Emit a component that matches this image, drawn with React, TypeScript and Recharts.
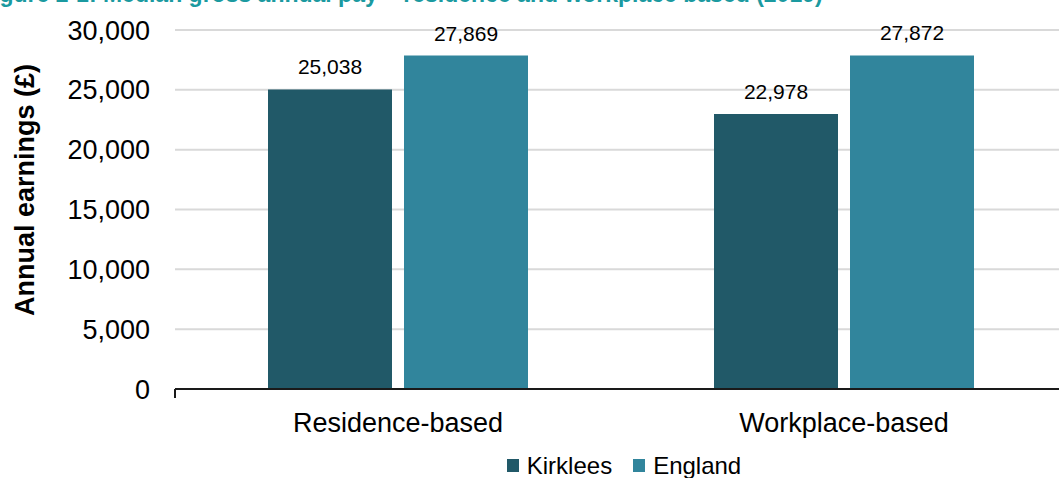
import { BarChart, Bar, XAxis, YAxis, CartesianGrid, Legend, LabelList } from 'recharts';

const CATEGORIES = ['Residence-based', 'Workplace-based'];
const KIRKLEES = [25038, 22978];
const ENGLAND = [27869, 27872];
const Y_TICKS = [0, 5000, 10000, 15000, 20000, 25000, 30000];
const EDGE_TICKS = [0, 1, 2];

const SERIES = [
  { key: 'Kirklees', color: '#215968' },
  { key: 'England', color: '#31859c' },
];

const data = CATEGORIES.map((name, i) => ({
  name,
  Kirklees: KIRKLEES[i],
  England: ENGLAND[i],
}));

const FONT = '"Liberation Sans", Arial, sans-serif';
const fmt = (v: number) => Number(v).toLocaleString('en-GB');

const YTitle = () => (
  <text
    x={34}
    y={190}
    transform="rotate(-90 34 190)"
    textAnchor="middle"
    fontSize={27}
    fontWeight="bold"
    fill="#000"
    fontFamily={FONT}
  >
    Annual earnings (£)
  </text>
);

const LegendBox = () => (
  <div
    style={{
      display: 'flex',
      justifyContent: 'center',
      alignItems: 'center',
      height: 28,
      paddingTop: 2,
      fontFamily: FONT,
      fontSize: 24,
      color: '#000',
    }}
  >
    {SERIES.map((s, i) => (
      <div key={s.key} style={{ display: 'flex', alignItems: 'center', marginLeft: i ? 21 : 0 }}>
        <span style={{ display: 'inline-block', width: 12, height: 13, background: s.color, marginRight: 8, marginTop: -2 }} />
        <span style={{ lineHeight: '28px' }}>{s.key}</span>
      </div>
    ))}
  </div>
);

export default function App() {
  return (
    <div style={{ position: 'fixed', left: 0, top: 0, width: 1059, height: 478, overflow: 'hidden', background: '#fff' }}>
      <div
        style={{
          position: 'absolute',
          left: -21,
          top: -17,
          fontSize: 23,
          lineHeight: '23px',
          fontWeight: 'bold',
          color: '#1b9aa0',
          fontFamily: FONT,
          whiteSpace: 'nowrap',
        }}
      >
        Figure 2-1: Median gross annual pay – residence and workplace based (2019)
      </div>
      <BarChart
        width={1075}
        height={478}
        data={data}
        margin={{ top: 30, right: 8, bottom: 0, left: 0 }}
        barGap={12}
        style={{ fontFamily: FONT }}
      >
        <CartesianGrid xAxisId={1} vertical={false} stroke="#d9d9d9" strokeWidth={2} />
        {/* category boundary ticks: numeric axis 0..2 spanning the plot */}
        <XAxis
          xAxisId={0}
          type="number"
          domain={[0, 2]}
          ticks={EDGE_TICKS}
          height={1}
          tickFormatter={() => ''}
          tick={{ fontSize: 1 }}
          tickSize={9}
          axisLine={{ stroke: '#1a1a1a', strokeWidth: 2 }}
          tickLine={{ stroke: '#1a1a1a', strokeWidth: 2 }}
        />
        <XAxis
          xAxisId={1}
          dataKey="name"
          height={60}
          axisLine={false}
          tickLine={false}
          tickSize={0}
          tickMargin={23}
          tick={{ fontSize: 27, fill: '#000' }}
        />
        <YAxis
          width={175}
          domain={[0, 30000]}
          ticks={Y_TICKS}
          axisLine={false}
          tickLine={false}
          tickSize={0}
          tickMargin={25}
          tickFormatter={fmt}
          tick={{ fontSize: 27, fill: '#000' }}
          label={<YTitle />}
        />
        <Legend
          content={<LegendBox />}
          wrapperStyle={{ left: 175, width: 898, height: 28 }}
        />
        {SERIES.map((s) => (
          <Bar key={s.key} xAxisId={1} dataKey={s.key} fill={s.color} barSize={124} isAnimationActive={false}>
            <LabelList dataKey={s.key} position="top" offset={15} formatter={fmt} fontSize={21} fill="#000" />
          </Bar>
        ))}
      </BarChart>
    </div>
  );
}
